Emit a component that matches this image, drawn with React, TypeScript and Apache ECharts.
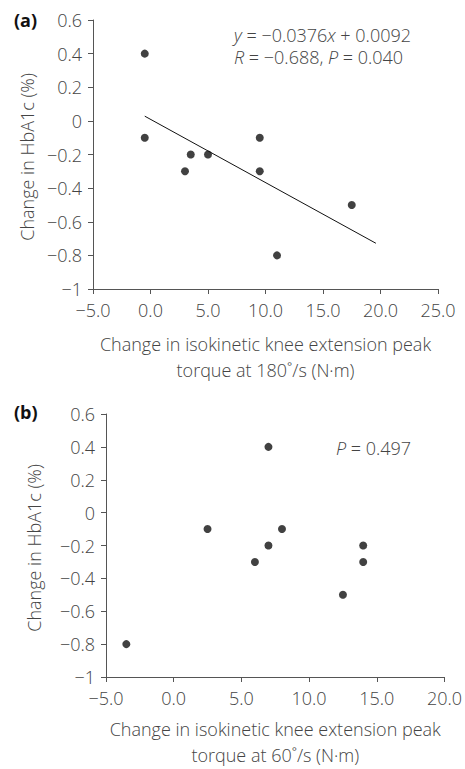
import React, { useEffect, useRef } from "react";
import * as echarts from "echarts";

const panelLabels = ["(a)", "(b)"];
const yTitle = "Change in HbA1c (%)";
const xTitleA = "Change in isokinetic knee extension peak\ntorque at 180˚/s (N·m)";
const xTitleB = "Change in isokinetic knee extension peak\ntorque at 60˚/s (N·m)";

const aX = [-0.5, -0.5, 3.0, 3.5, 5.0, 9.5, 9.5, 11.0, 17.5];
const aY = [0.4, -0.1, -0.3, -0.2, -0.2, -0.1, -0.3, -0.8, -0.5];
const trendX = [-0.5, 19.6];
const trendY = [0.028, -0.728];

const bX = [-3.5, 2.5, 6.0, 7.0, 7.0, 8.0, 12.5, 14.0, 14.0];
const bY = [-0.8, -0.1, -0.3, 0.4, -0.2, -0.1, -0.5, -0.2, -0.3];

const yMin = -1, yMax = 0.6, yStep = 0.2;
const xAMin = -5, xAMax = 25, xBMin = -5, xBMax = 20, xStep = 5;

const FONT = "'Open Sans', 'Noto Sans', sans-serif";
const FS = 18;
const FW = 300;
const TXT = "#444";
const AXIS = "#555";

const fmtY = (v: number) => {
  const r = Math.round(v * 10) / 10;
  const s = Number.isInteger(r) ? String(Math.abs(r)) : Math.abs(r).toFixed(1);
  return (r < 0 ? "−" : "") + s;
};
const fmtX = (v: number) => {
  const r = Math.round(v * 10) / 10;
  return (r < 0 ? "−" : "") + Math.abs(r).toFixed(1);
};

const axisCommon = {
  axisLine: { show: true, onZero: false, lineStyle: { color: AXIS, width: 1 } },
  axisTick: { show: true, length: 5, lineStyle: { color: AXIS, width: 1 } },
  splitLine: { show: false },
};

const textStyle = (extra: any = {}) => ({
  fontSize: FS,
  fontFamily: FONT,
  fontWeight: FW,
  fill: TXT,
  ...extra,
});

export default function App() {
  const ref = useRef<HTMLDivElement>(null);
  useEffect(() => {
    if (!ref.current) return;
    const chart = echarts.init(ref.current, undefined, { renderer: "svg" });
    const yAxis = (gi: number) => ({
      type: "value",
      gridIndex: gi,
      min: yMin,
      max: yMax,
      interval: yStep,
      ...axisCommon,
      axisLabel: { formatter: fmtY, color: TXT, fontSize: FS, fontFamily: FONT, fontWeight: FW, margin: 11 },
    });
    const xAxis = (gi: number, min: number, max: number, name: string, gap: number) => ({
      type: "value",
      gridIndex: gi,
      min,
      max,
      interval: xStep,
      ...axisCommon,
      axisLabel: { formatter: fmtX, color: TXT, fontSize: FS, fontFamily: FONT, fontWeight: FW, margin: 12 },
      name,
      nameLocation: "middle",
      nameGap: gap,
      nameTextStyle: { color: TXT, fontSize: FS, fontFamily: FONT, fontWeight: FW, lineHeight: 26 },
    });
    const rich = { i: { fontStyle: "italic", fontSize: FS, fontFamily: FONT, fontWeight: FW, fill: TXT } };
    chart.setOption({
      animation: false,
      grid: [
        { left: 93, top: 20, width: 345, height: 269 },
        { left: 106, top: 414, width: 342, height: 265 },
      ],
      xAxis: [xAxis(0, xAMin, xAMax, xTitleA, 42), xAxis(1, xBMin, xBMax, xTitleB, 39)],
      yAxis: [yAxis(0), yAxis(1)],
      series: [
        {
          type: "line",
          xAxisIndex: 0,
          yAxisIndex: 0,
          data: trendX.map((x, i) => [x, trendY[i]]),
          symbol: "none",
          lineStyle: { color: "#111", width: 1 },
          silent: true,
        },
        {
          type: "scatter",
          xAxisIndex: 0,
          yAxisIndex: 0,
          data: aX.map((x, i) => [x, aY[i]]),
          symbolSize: 8,
          itemStyle: { color: "#111" },
        },
        {
          type: "scatter",
          xAxisIndex: 1,
          yAxisIndex: 1,
          data: bX.map((x, i) => [x, bY[i]]),
          symbolSize: 8,
          itemStyle: { color: "#111" },
        },
      ],
      graphic: [
        { type: "text", x: 14, y: 20, style: { text: panelLabels[0], fontSize: FS, fontWeight: "bold", fontFamily: FONT, fill: "#111", verticalAlign: "middle" } },
        { type: "text", x: 14, y: 412, style: { text: panelLabels[1], fontSize: FS, fontWeight: "bold", fontFamily: FONT, fill: "#111", verticalAlign: "middle" } },
        { type: "text", x: 27, y: 157, rotation: Math.PI / 2, style: textStyle({ text: yTitle, align: "center", verticalAlign: "middle" }) },
        { type: "text", x: 34, y: 548, rotation: Math.PI / 2, style: textStyle({ text: yTitle, align: "center", verticalAlign: "middle" }) },
        {
          type: "text", x: 234, y: 35,
          style: textStyle({ text: "{i|y} = −0.0376{i|x} + 0.0092", verticalAlign: "middle", rich }),
        },
        {
          type: "text", x: 234, y: 57,
          style: textStyle({ text: "{i|R} = −0.688, {i|P} = 0.040", verticalAlign: "middle", rich }),
        },
        {
          type: "text", x: 336, y: 448,
          style: textStyle({ text: "{i|P} = 0.497", verticalAlign: "middle", rich }),
        },
      ],
    });
    return () => chart.dispose();
  }, []);
  return (
    <div
      ref={ref}
      style={{ position: "fixed", left: 0, top: 0, width: 465, height: 769, background: "#fff" }}
    />
  );
}
